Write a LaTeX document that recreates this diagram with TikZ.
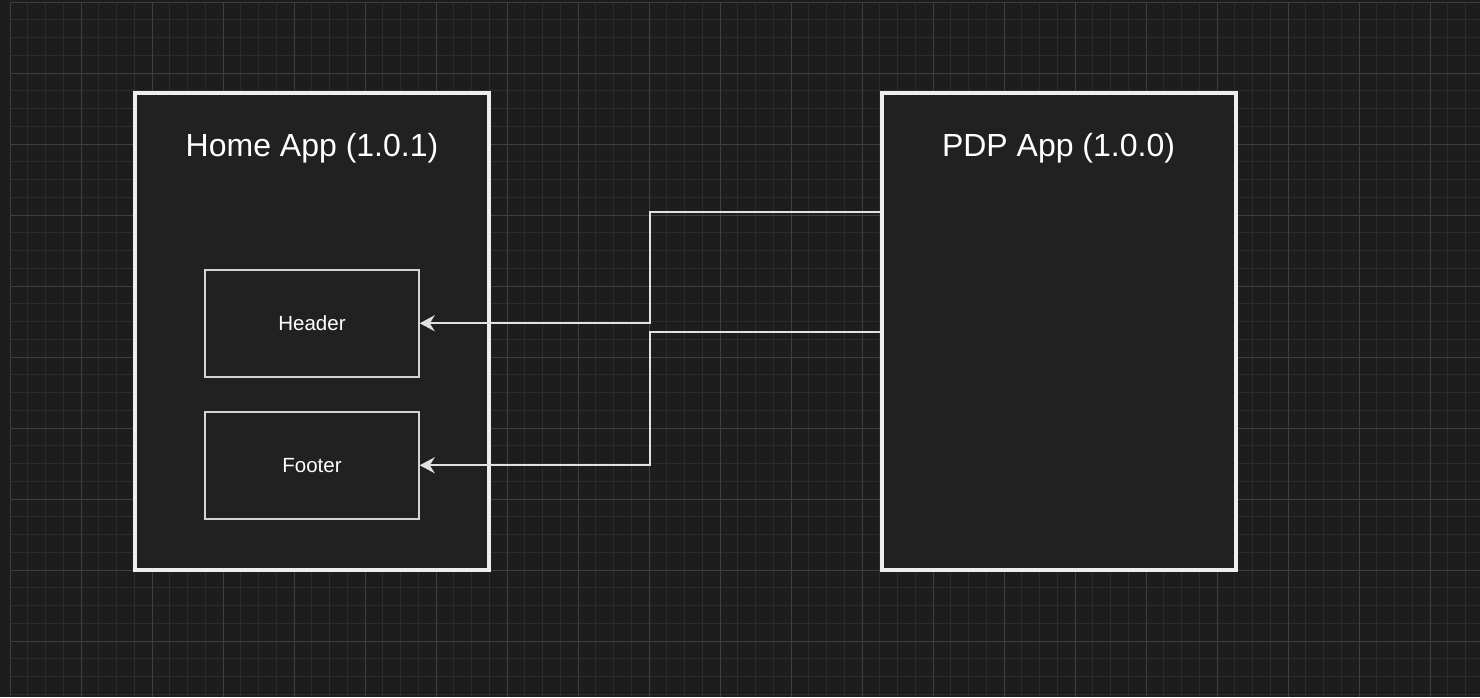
\documentclass[tikz,border=0pt]{standalone}
\usepackage{fontspec}
\setmainfont{Liberation Sans}
\usetikzlibrary{arrows.meta,positioning}
\definecolor{canvas}{HTML}{1D1D1D}
\definecolor{boxfill}{HTML}{212121}
\definecolor{gridminor}{HTML}{2C2C2C}
\definecolor{gridmajor}{HTML}{3E3E3E}
\definecolor{boxline}{HTML}{EEEEEE}
\definecolor{partline}{HTML}{D4D4D4}
\definecolor{linkcol}{HTML}{E2E2E2}
\begin{document}
\begin{tikzpicture}[x=1pt, y=-1pt,
		app/.style = {draw=boxline, line width=4pt, fill=boxfill, minimum width=354pt, minimum height=477pt},
		part/.style = {draw=partline, line width=1.5pt, fill=boxfill, minimum width=214pt, minimum height=107pt, text=white, font=\fontsize{20.5}{24}\selectfont},
		title/.style = {text=white, font=\fontsize{32}{38}\selectfont},
		link/.style = {draw=linkcol, line width=2pt, -{Stealth[length=15pt, width=16pt, inset=5pt]}}]
	\useasboundingbox (0,0) rectangle (1480,697);
	\fill[canvas] (0,0) rectangle (1480,697);
	% grid
	\foreach \i in {0,...,83} \draw[gridminor, line width=1pt] ({10+17.75*\i},2) -- ({10+17.75*\i},697);
	\foreach \j in {0,...,39} \draw[gridminor, line width=1pt] (10,{2+17.75*\j}) -- (1480,{2+17.75*\j});
	\foreach \i in {0,...,20} \draw[gridmajor, line width=1pt] ({10+71*\i},2) -- ({10+71*\i},697);
	\foreach \j in {0,...,9} \draw[gridmajor, line width=1pt] (10,{2+71*\j}) -- (1480,{2+71*\j});
	
	\node[app] (home) at (312,331.5) {};
	\node[app] (pdp) at (1058.5,331.5) {};
	\node[title] (homeTitle) at ([yshift=-57pt]home.north) {Home App (1.0.1)};
	\node[title] (pdpTitle) at ([yshift=-57pt]pdp.north) {PDP App (1.0.0)};
	\node[part] (header) [below=178pt of home.north] {Header};
	\node[part] (footer) [below=33.5pt of header] {Footer};
	
	\draw[link] ([yshift=119.5pt]pdp.west) -- ++(-230,0) |- (header.east);
	\draw[link] (pdp.west) -- ++(-230,0) |- (footer.east);
\end{tikzpicture}
\end{document}
